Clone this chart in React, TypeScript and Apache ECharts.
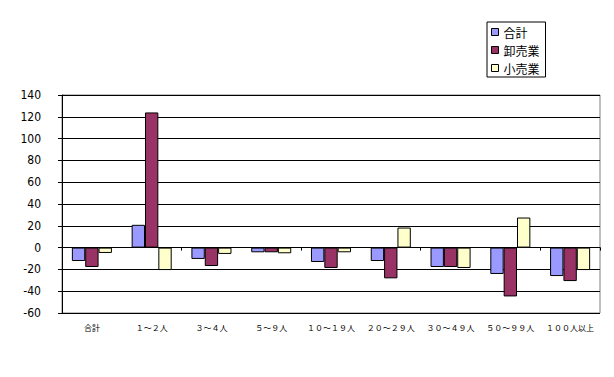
import React, { useEffect, useRef } from "react";
import * as echarts from "echarts";

const categories = ["合計", "１～２人", "３～４人", "５～９人", "１０～１９人", "２０～２９人", "３０～４９人", "５０～９９人", "１００人以上"];
const seriesNames = ["合計", "卸売業", "小売業"];
const totalValues = [-12.3, 20.9, -10.4, -4.3, -13.2, -12.3, -17.8, -24.2, -26.1];
const wholesaleValues = [-17.8, 124, -16.9, -4.3, -18.7, -28.2, -17.8, -44.8, -30.7];
const retailValues = [-4.9, -20.6, -5.8, -5.2, -4.3, 18.4, -18.7, 27.6, -20.6];
const colors = ["#9999FF", "#993366", "#FFFFCC"];

export default function App() {
  const ref = useRef<HTMLDivElement>(null);
  useEffect(() => {
    const chart = echarts.init(ref.current!, null, { renderer: "svg" });
    const values = [totalValues, wholesaleValues, retailValues];
    chart.setOption({
      animation: false,
      backgroundColor: "#fff",
      textStyle: { fontFamily: "'Noto Sans CJK JP', sans-serif" },
      legend: {
        orient: "vertical",
        left: 487,
        top: 22,
        padding: [3, 6, 2, 4],
        borderColor: "#000",
        borderWidth: 1,
        icon: "rect",
        itemWidth: 7,
        itemHeight: 7,
        itemGap: 4,
        data: seriesNames,
        itemStyle: { borderColor: "#000", borderWidth: 1 },
        textStyle: { fontSize: 12, lineHeight: 14, color: "#000", fontFamily: "'Noto Sans CJK JP', sans-serif" },
      },
      grid: {
        left: 62,
        right: 14,
        top: 95,
        bottom: 64,
        show: true,
        borderColor: "#808080",
        borderWidth: 1,
        backgroundColor: "transparent",
      },
      xAxis: [
        {
          type: "category",
          data: categories,
          position: "bottom",
          axisLine: { onZero: false, show: false },
          axisTick: { show: false },
          axisLabel: { fontSize: 8, color: "#000", margin: 10, interval: 0 },
        },
        {
          type: "category",
          data: categories,
          position: "top",
          axisLine: { onZero: true, show: true, lineStyle: { color: "#000", width: 1 } },
          axisTick: { show: true, inside: true, length: 3, lineStyle: { color: "#000" } },
          axisLabel: { show: false },
        },
      ],
      yAxis: {
        type: "value",
        min: -60,
        max: 140,
        interval: 20,
        axisLine: { show: true, lineStyle: { color: "#000" } },
        axisTick: { show: true, length: 4, lineStyle: { color: "#000" } },
        axisLabel: { fontSize: 12, color: "#000", margin: 21, fontFamily: "'Liberation Sans Narrow', 'DejaVu Sans Condensed', sans-serif" },
        splitLine: { show: true, lineStyle: { color: "#000", width: 1 } },
      },
      series: seriesNames.map((name, i) => ({
        name,
        type: "bar",
        xAxisIndex: 0,
        data: values[i],
        barGap: "0%",
        barCategoryGap: "33%",
        itemStyle: { color: colors[i], borderColor: "#000", borderWidth: 1 },
      })),
    });
    return () => chart.dispose();
  }, []);
  return <div ref={ref} style={{ width: 614, height: 377, position: "absolute", left: 0, top: 0 }} />;
}
